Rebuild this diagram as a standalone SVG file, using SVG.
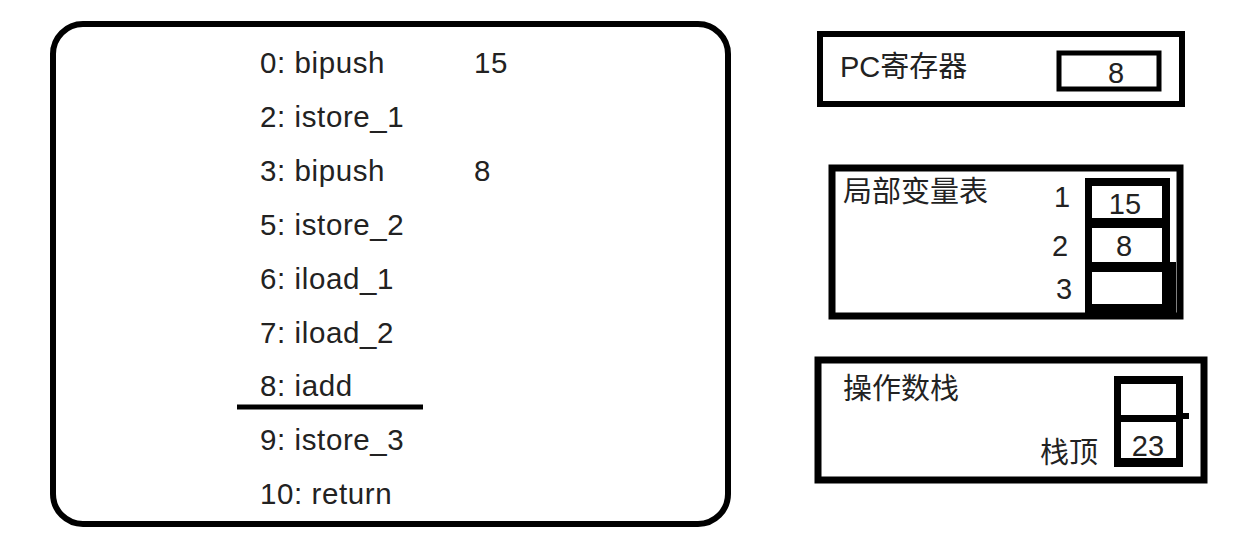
<svg xmlns="http://www.w3.org/2000/svg" width="1248" height="542" viewBox="0 0 1248 542">
<style>
text{font-family:"Liberation Sans","Noto Sans CJK SC",sans-serif;font-size:29px;fill:#222}
.c{font-size:29.5px;letter-spacing:0.6px}
.b{fill:none;stroke:#000}
</style>
<rect width="1248" height="542" fill="#fff"/>
<g id="code">
<rect class="b" x="53" y="24" width="675" height="500" rx="30" stroke-width="6"/>
<text class="c" x="260" y="73">0: bipush</text><text class="c" x="474" y="73">15</text>
<text class="c" x="260" y="127">2: istore_1</text>
<text class="c" x="260" y="181">3: bipush</text><text class="c" x="474" y="181">8</text>
<text class="c" x="260" y="235">5: istore_2</text>
<text class="c" x="260" y="289">6: iload_1</text>
<text class="c" x="260" y="343">7: iload_2</text>
<text class="c" x="260" y="396">8: iadd</text>
<line x1="237" y1="407" x2="423" y2="407" stroke="#000" stroke-width="5"/>
<text class="c" x="260" y="450">9: istore_3</text>
<text class="c" x="260" y="504">10: return</text>
</g>
<g id="pc">
<rect class="b" x="820" y="34" width="362" height="70" stroke-width="6"/>
<text x="840" y="77">PC寄存器</text>
<rect class="b" x="1059" y="53" width="100" height="36" stroke-width="5"/>
<text x="1116" y="83" text-anchor="middle">8</text>
</g>
<g id="locals">
<rect class="b" x="832" y="168" width="348" height="148" stroke-width="7"/>
<text x="843" y="202">局部变量表</text>
<text x="1054" y="207">1</text><text x="1052" y="256">2</text><text x="1056" y="299">3</text>
<rect x="1085" y="178" width="85" height="141" fill="#000"/>
<rect x="1092" y="186" width="70" height="32" fill="#fff"/>
<rect x="1092" y="228" width="70" height="34" fill="#fff"/>
<rect x="1092" y="272" width="70" height="32" fill="#fff"/>
<rect x="1170" y="262" width="6" height="54" fill="#000"/>
<text x="1125" y="214" text-anchor="middle">15</text>
<text x="1124" y="256" text-anchor="middle">8</text>
</g>
<g id="stack">
<rect class="b" x="818" y="360" width="386" height="120" stroke-width="7"/>
<text x="843" y="399">操作数栈</text>
<text x="1040" y="463">栈顶</text>
<rect x="1114" y="376" width="69" height="91" fill="#000"/>
<rect x="1121" y="384" width="55" height="31" fill="#fff"/>
<rect x="1121" y="422" width="55" height="36" fill="#fff"/>
<rect x="1183" y="413" width="6" height="6" fill="#000"/>
<text x="1148" y="456" text-anchor="middle">23</text>
</g>
<g id="connectors"/>
</svg>
